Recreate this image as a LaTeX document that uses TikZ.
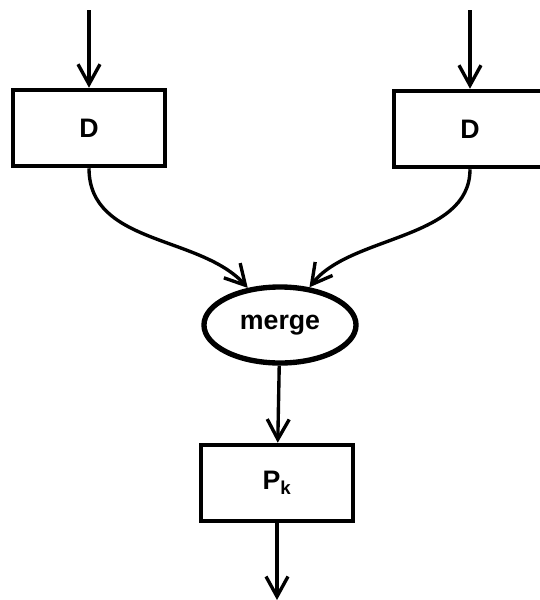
\documentclass[tikz,border=0pt]{standalone}
\usepackage{fontspec}
\setmainfont{Liberation Sans}
\usetikzlibrary{arrows.meta,shapes.geometric}
\begin{document}
\begin{tikzpicture}[x=0.025cm,y=-0.025cm,
	box/.style = {shape=rectangle, draw, line width=3.2pt,
		minimum width=3.8cm, minimum height=1.9cm,
		font=\fontsize{19}{22}\selectfont\bfseries},
	oval/.style = {shape=ellipse, draw, line width=3.8pt,
		minimum width=3.8cm, minimum height=1.9cm, inner sep=0pt,
		font=\fontsize{19}{22}\selectfont\bfseries},
	flow/.style = {line width=2.4pt,
		-{Straight Barb[length=5mm,width=5.5mm,line width=2.4pt]}}]
	\useasboundingbox (0,0) rectangle (540,600);
	\clip (0,0) rectangle (540,600);
	\coordinate (inl) at (89,10);
	\coordinate (inr) at (470,10);
	\coordinate (out) at (277,600);
	\node[box] (dl) at (89,128) {D};
	\node[box] (dr) at (470,129) {D};
	\node[oval] (merge) at (280,325) {merge};
	\node[box] (pk) at (277,483) {P\textsubscript{k}};
	\draw[flow] (inl) -- (dl);
	\draw[flow] (inr) -- (dr);
	\draw[flow] (dl.south) .. controls (89,245) and (200,235) .. (merge.131);
	\draw[flow] (dr.south) .. controls (470,240) and (350,235) .. (merge.52);
	\draw[flow] (merge) -- (pk);
	\draw[flow] (pk) -- (out);
\end{tikzpicture}
\end{document}
